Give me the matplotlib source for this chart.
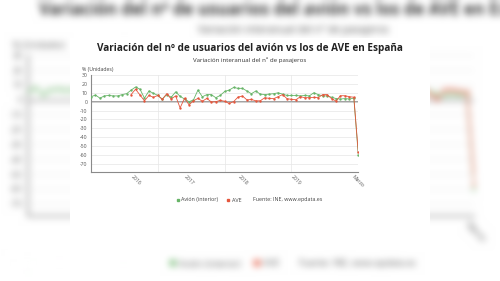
import numpy as np
import pandas as pd
import matplotlib
matplotlib.use("Agg")
import matplotlib.pyplot as plt
from matplotlib.lines import Line2D
from matplotlib.patches import Rectangle

plt.rcParams['font.family'] = ['Open Sans', 'DejaVu Sans']

# ---------------- data ----------------
months = pd.date_range("2015-03-01", "2020-03-01", freq="MS")
avion = [5.5, 7.5, 4, 6.5, 7, 6.5, 6.5, 8, 9, 13,
         16.5, 14, 4, 12, 9.5, 7, 3, 8, 5, 11,
         6, 3, 0, 2, 13, 5.5, 8, 8, 4.5, 7,
         11.5, 13, 16, 15, 15, 12, 9, 12, 8.5, 8,
         8.5, 9, 10, 8.5, 7, 7, 7, 6.5, 7, 6.5,
         10, 8, 6.5, 6.5, 5, 3.5, 3, 3.5, 3, 4,
         -60]
ave = [np.nan] * 9 + [8, 14, 7.5, 1, 7, 5, 7, 2.5, 9, 3,
                      6.5, -7, 4, -3.5, 1, 3.7, 0.5, 3.7, -0.3, 0,
                      1.5, 0.5, -2, 0, 5.2, 6.4, 2, 2.5, 1, 1,
                      4.5, 3.7, 3.4, 5.6, 8, 3.4, 2.6, 2.2, 5.6, 4.5,
                      4.5, 4.9, 4.5, 8, 8, 3.4, 0.7, 6.7, 6.7, 5.6,
                      5, -57]
tick_months = ["2016-01", "2017-01", "2018-01", "2019-01", "2020-03"]
tick_labels = ["2016", "2017", "2018", "2019", "Marzo"]
y_ticks = list(range(-70, 31, 10))

title = "Variación del nº de usuarios del avión vs los de AVE en España"
subtitle = "Variación interanual del nº de pasajeros"
unit_label = "% (Unidades)"
series_names = ["Avión (interior)", "AVE"]
source = "Fuente: INE, www.epdata.es"

GREEN = "#67b467"
RED = "#e5563c"
W, H = 500.0, 281.0


def fx(px):
    return px / W


def fy(py):
    return 1 - py / H


def draw_card(fig, z=3):
    fig.text(fx(250), fy(48), title, ha="center", va="center", fontsize=7.2,
             fontweight="bold", color="#222222", zorder=z)
    fig.text(fx(250), fy(60), subtitle, ha="center", va="center", fontsize=4.45,
             color="#333333", zorder=z)
    fig.text(fx(82), fy(69), unit_label, ha="left", va="center", fontsize=3.7,
             color="#444444", zorder=z)

    ax = fig.add_axes([fx(91), fy(171.7), (358.3 - 91) / W, (171.7 - 75) / H])
    ax.set_zorder(z)
    ax.set_facecolor("white")
    x = np.arange(len(months))
    ax.set_xlim(0, len(months) - 1)
    ax.set_ylim(-78.7, 30)

    ax.set_yticks(y_ticks)
    ax.set_yticklabels([str(v) for v in y_ticks])
    ax.yaxis.grid(True, color="#e6e6e6", lw=0.5)
    ax.tick_params(axis="y", length=0, labelsize=3.7, labelcolor="#555555", pad=2.5)
    for k in (15, 30, 45):
        ax.axvline(k, color="#e6e6e6", lw=0.5, zorder=0)
    ax.axvline(len(months) - 1, color="#e6e6e6", lw=0.5, zorder=0)
    ax.axhline(0, color="#9a9a9a", lw=1.3, zorder=1)

    mlabels = [m.strftime("%Y-%m") for m in months]
    pos = [mlabels.index(t) for t in tick_months]
    ax.set_xticks(pos)
    ax.set_xticklabels(tick_labels, rotation=-45, ha="center", va="top")
    ax.tick_params(axis="x", length=0, labelsize=3.7, labelcolor="#555555", pad=1.5)

    for s in ("top", "right"):
        ax.spines[s].set_visible(False)
    ax.spines["left"].set_color("#8a8a8a")
    ax.spines["bottom"].set_color("#8a8a8a")
    ax.spines["left"].set_linewidth(0.8)
    ax.spines["bottom"].set_linewidth(0.8)

    ax.plot(x, avion, color=GREEN, lw=0.6, marker="o", ms=1.7, mew=0, zorder=3)
    ax.plot(x, ave, color=RED, lw=0.6, marker="o", ms=1.7, mew=0, zorder=4)

    handles = [Line2D([], [], ls="none", marker="s", ms=1.8, color=GREEN),
               Line2D([], [], ls="none", marker="s", ms=1.8, color=RED)]
    leg = fig.legend(handles, series_names, loc="center", ncol=2,
                     bbox_to_anchor=(fx(209), fy(200)), frameon=False,
                     fontsize=3.9, handlelength=0.5, handletextpad=0.4,
                     columnspacing=1.6, borderpad=0)
    for t in leg.get_texts():
        t.set_color("#444444")
    leg.set_zorder(z)
    fig.text(fx(253), fy(200), source, ha="left", va="center", fontsize=3.9,
             color="#444444", zorder=z)
    return ax


def box_blur(a, r):
    out = a
    for axis in (0, 1):
        pad = [(0, 0)] * out.ndim
        pad[axis] = (r + 1, r)
        p = np.pad(out, pad, mode="edge")
        c = np.cumsum(p, axis=axis)
        n = out.shape[axis]
        hi = np.take(c, np.arange(2 * r + 1, 2 * r + 1 + n), axis=axis)
        lo = np.take(c, np.arange(0, n), axis=axis)
        out = (hi - lo) / (2 * r + 1)
    return out


# ---------------- blurred, enlarged background ----------------
SCALE = 1.67
bg = plt.figure(figsize=(W / 100, H / 100), dpi=100 * SCALE)
bg.patch.set_facecolor("white")
draw_card(bg)
bg.canvas.draw()
arr = np.asarray(bg.canvas.buffer_rgba())[..., :3].astype(float) / 255.0
plt.close(bg)
ox = int(round(SCALE * 185 - 185))
oy = int(round(SCALE * 104 - 104))
crop = arr[oy:oy + int(H), ox:ox + int(W)]
for _ in range(3):
    crop = box_blur(crop, 3)
crop = 0.88 * crop + 0.12
crop = np.clip(crop, 0, 1)

# ---------------- main figure ----------------
fig = plt.figure(figsize=(W / 100, H / 100), dpi=100)
fig.patch.set_facecolor("white")
fig.figimage(crop, xo=0, yo=0, origin="upper", zorder=0)
card = Rectangle((fx(70), fy(248)), fx(430) - fx(70), fy(38) - fy(248),
                 transform=fig.transFigure, facecolor="white", edgecolor="none",
                 zorder=1)
fig.patches.append(card)
draw_card(fig, z=3)
fig.savefig("out.png", dpi=100)
